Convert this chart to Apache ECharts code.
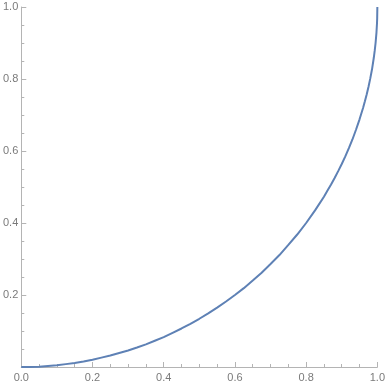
<!DOCTYPE html>
<html>
<head>
<meta charset="utf-8">
<script src="https://cdn.jsdelivr.net/npm/echarts@6/dist/echarts.min.js"></script>
<style>
  html, body { margin: 0; padding: 0; background: #fff; }
  #chart { width: 388px; height: 386px; }
</style>
</head>
<body>
<div id="chart"></div>
<script>
// points
const xValues = [0, 0.025, 0.05, 0.075, 0.1, 0.125, 0.15, 0.175, 0.2, 0.225, 0.25, 0.275, 0.3, 0.325, 0.35, 0.375, 0.4, 0.425, 0.45, 0.475, 0.5, 0.525, 0.55, 0.575, 0.6, 0.625, 0.65, 0.675, 0.7, 0.725, 0.75, 0.775, 0.8, 0.825, 0.85, 0.86, 0.87, 0.88, 0.89, 0.9, 0.91, 0.92, 0.93, 0.94, 0.95, 0.96, 0.965, 0.97, 0.975, 0.98, 0.985, 0.99, 0.9925, 0.995, 0.9975, 0.999, 0.9995, 1.0]
const yValues = [0, 0.0003, 0.001, 0.003, 0.005, 0.008, 0.011, 0.015, 0.020, 0.026, 0.032, 0.039, 0.046, 0.054, 0.063, 0.073, 0.083, 0.095, 0.107, 0.120, 0.134, 0.149, 0.165, 0.182, 0.200, 0.219, 0.240, 0.262, 0.286, 0.311, 0.339, 0.368, 0.400, 0.435, 0.473, 0.490, 0.507, 0.525, 0.544, 0.564, 0.585, 0.608, 0.632, 0.659, 0.688, 0.720, 0.738, 0.757, 0.778, 0.801, 0.827, 0.859, 0.878, 0.900, 0.929, 0.955, 0.968, 1.0]
const tickLabels = ['0.0', '0.2', '0.4', '0.6', '0.8', '1.0']

const axisGrey = '#b4b4b4'
const labelGrey = '#7a7a7a'

const chart = echarts.init(document.getElementById('chart'))

function axisCommon() {
  return {
    type: 'value',
    min: 0,
    max: 1,
    interval: 0.2,
    axisLine: { show: true, onZero: false, lineStyle: { color: axisGrey, width: 1 } },
    axisTick: { show: true, inside: true, length: 5, lineStyle: { color: axisGrey } },
    minorTick: { show: true, splitNumber: 4, length: 3, lineStyle: { color: axisGrey } },
    splitLine: { show: false },
    minorSplitLine: { show: false }
  }
}

const option = {
  animation: false,
  grid: { left: 18, right: 10, top: 7, bottom: 19, containLabel: false },
  xAxis: Object.assign(axisCommon(), {
    axisLabel: {
      color: labelGrey,
      fontFamily: 'Liberation Sans',
      fontSize: 11,
      margin: 5,
      showMaxLabel: true,
      showMinLabel: true,
      formatter: v => tickLabels[Math.round(v * 5)]
    }
  }),
  yAxis: Object.assign(axisCommon(), {
    axisLabel: {
      color: labelGrey,
      fontFamily: 'Liberation Sans',
      fontSize: 11,
      margin: 3,
      showMaxLabel: true,
      formatter: v => (v === 0 ? '' : tickLabels[Math.round(v * 5)])
    }
  }),
  series: [
    {
      type: 'line',
      data: xValues.map((x, i) => [x, yValues[i]]),
      smooth: false,
      showSymbol: false,
      lineStyle: { color: '#5e81b5', width: 2 }
    }
  ]
}

chart.setOption(option)
</script>
</body>
</html>
